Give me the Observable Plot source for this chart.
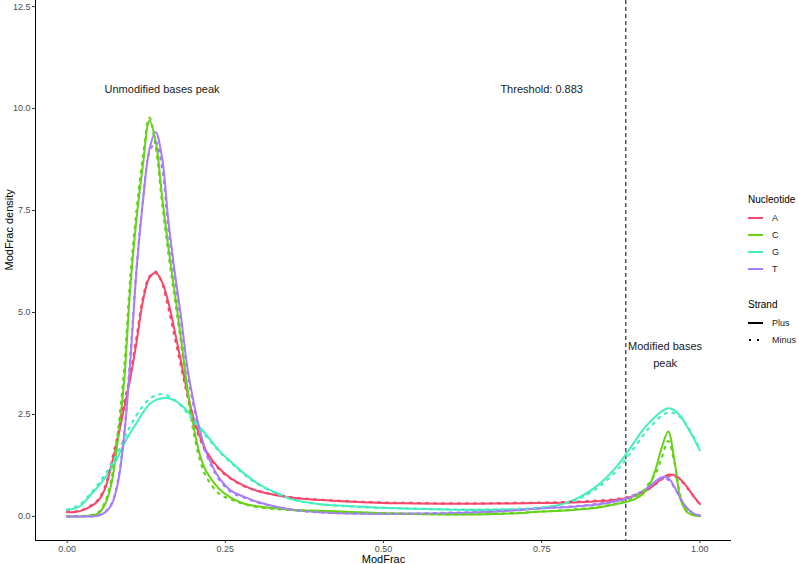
<!DOCTYPE html>
<html>
<head>
<meta charset="utf-8">
<script src="https://cdn.jsdelivr.net/npm/d3@7"></script>
<script src="https://cdn.jsdelivr.net/npm/@observablehq/plot@0.6"></script>
<style>
  html, body { margin: 0; padding: 0; background: #fff; }
  #wrap { position: relative; width: 798px; height: 564px; font-family: "Liberation Sans", Arial, sans-serif; }
  #legend { position: absolute; left: 748px; top: 194px; font-size: 9px; color: #1a1a1a; white-space: nowrap; }
  .lt { font-size: 10px; color: #000; margin-bottom: 4px; }
  .li { display: flex; align-items: center; height: 17px; }
  .li svg { margin-right: 9px; }
</style>
</head>
<body>
<div id="wrap"></div>
<script>
// ---- data ----
const nucleotides = ["A", "C", "G", "T"];
const nucColors = ["#F7486C", "#66D21A", "#43EFBE", "#A77DF9"];
const strands = ["Plus", "Minus"];
const xs = [0, 0.02, 0.04, 0.05, 0.06, 0.07, 0.08, 0.09, 0.10, 0.11, 0.12, 0.13, 0.14, 0.15, 0.16, 0.17, 0.18, 0.19, 0.20, 0.21, 0.22, 0.24, 0.26, 0.28, 0.30, 0.33, 0.36, 0.40, 0.45, 0.50, 0.55, 0.60, 0.65, 0.70, 0.75, 0.80, 0.84, 0.87, 0.89, 0.91, 0.92, 0.93, 0.94, 0.95, 0.96, 0.97, 0.98, 0.99, 1.00];

const A_plus  = [0.10, 0.13, 0.27, 0.40, 0.68, 1.25, 1.90, 2.65, 3.40, 4.30, 5.30, 5.85, 5.97, 5.75, 5.25, 4.55, 3.80, 3.05, 2.40, 1.95, 1.60, 1.18, 0.92, 0.75, 0.63, 0.52, 0.45, 0.40, 0.36, 0.33, 0.32, 0.31, 0.31, 0.32, 0.33, 0.34, 0.37, 0.41, 0.47, 0.60, 0.68, 0.80, 0.93, 1.02, 1.01, 0.90, 0.72, 0.50, 0.30];
const A_minus = [0.11, 0.14, 0.29, 0.43, 0.73, 1.33, 2.00, 2.78, 3.50, 4.42, 5.38, 5.88, 6.00, 5.72, 5.12, 4.40, 3.68, 2.96, 2.34, 1.90, 1.57, 1.16, 0.91, 0.74, 0.63, 0.53, 0.46, 0.41, 0.37, 0.34, 0.33, 0.32, 0.32, 0.33, 0.34, 0.36, 0.39, 0.43, 0.49, 0.60, 0.68, 0.79, 0.91, 0.99, 0.98, 0.88, 0.70, 0.49, 0.30];
const C_plus  = [0.00, 0.00, 0.03, 0.08, 0.30, 0.80, 1.85, 3.30, 5.65, 7.35, 8.65, 9.70, 9.20, 7.85, 6.60, 5.50, 4.35, 3.15, 2.20, 1.50, 1.10, 0.68, 0.45, 0.31, 0.25, 0.20, 0.16, 0.14, 0.11, 0.08, 0.06, 0.05, 0.05, 0.07, 0.12, 0.16, 0.22, 0.31, 0.38, 0.55, 0.75, 1.15, 1.70, 2.08, 1.35, 0.40, 0.10, 0.03, 0.01];
const C_minus = [0.00, 0.01, 0.04, 0.11, 0.36, 0.92, 2.05, 3.60, 5.90, 7.55, 8.85, 9.78, 9.05, 7.70, 6.45, 5.35, 4.25, 3.00, 2.05, 1.38, 0.97, 0.56, 0.41, 0.30, 0.23, 0.18, 0.15, 0.13, 0.10, 0.08, 0.06, 0.05, 0.06, 0.08, 0.12, 0.17, 0.24, 0.32, 0.42, 0.62, 0.82, 1.05, 1.45, 1.85, 1.30, 0.45, 0.12, 0.03, 0.01];
const G_plus  = [0.15, 0.25, 0.58, 0.75, 0.95, 1.17, 1.45, 1.78, 2.05, 2.30, 2.55, 2.75, 2.85, 2.90, 2.90, 2.84, 2.74, 2.58, 2.38, 2.18, 2.00, 1.62, 1.32, 1.05, 0.82, 0.58, 0.40, 0.30, 0.25, 0.21, 0.19, 0.17, 0.16, 0.17, 0.20, 0.40, 0.78, 1.25, 1.68, 2.12, 2.30, 2.45, 2.58, 2.65, 2.60, 2.45, 2.20, 1.92, 1.62];
const G_minus = [0.17, 0.29, 0.62, 0.81, 1.03, 1.28, 1.58, 1.90, 2.22, 2.49, 2.71, 2.88, 2.97, 3.00, 2.95, 2.85, 2.71, 2.53, 2.33, 2.14, 1.96, 1.60, 1.30, 1.03, 0.80, 0.57, 0.40, 0.30, 0.24, 0.21, 0.19, 0.17, 0.17, 0.18, 0.22, 0.38, 0.72, 1.15, 1.55, 1.98, 2.17, 2.33, 2.47, 2.55, 2.53, 2.42, 2.22, 1.95, 1.66];
const T_plus  = [0.00, 0.00, 0.00, 0.02, 0.10, 0.28, 0.80, 1.95, 3.85, 6.10, 7.75, 9.00, 9.42, 8.80, 7.25, 6.00, 4.90, 3.65, 2.80, 2.10, 1.58, 0.95, 0.62, 0.48, 0.36, 0.24, 0.16, 0.10, 0.07, 0.06, 0.07, 0.08, 0.10, 0.14, 0.20, 0.24, 0.30, 0.38, 0.47, 0.62, 0.72, 0.86, 0.96, 0.94, 0.72, 0.42, 0.20, 0.07, 0.02];
const T_minus = [0.00, 0.00, 0.01, 0.03, 0.11, 0.31, 0.86, 2.02, 3.95, 6.15, 7.78, 8.92, 9.18, 8.55, 7.05, 5.85, 4.75, 3.55, 2.70, 2.03, 1.52, 0.91, 0.59, 0.46, 0.35, 0.23, 0.15, 0.10, 0.07, 0.07, 0.07, 0.09, 0.11, 0.15, 0.20, 0.25, 0.31, 0.39, 0.48, 0.63, 0.73, 0.85, 0.93, 0.90, 0.70, 0.42, 0.20, 0.08, 0.02];

const xTicks = [0, 0.25, 0.5, 0.75, 1];
const yTicks = [0, 2.5, 5, 7.5, 10, 12.5];
const threshold = 0.883;
const annotations = [
  {x: 0.15, y: 10.5, label: "Unmodified bases peak"},
  {x: 0.75, y: 10.5, label: "Threshold: 0.883"},
  {x: 0.945, y: 4.0, label: "Modified bases\npeak"}
];

// ---- build table ----
const seriesMap = {
  A: {Plus: A_plus, Minus: A_minus},
  C: {Plus: C_plus, Minus: C_minus},
  G: {Plus: G_plus, Minus: G_minus},
  T: {Plus: T_plus, Minus: T_minus}
};
const rows = [];
for (const n of nucleotides) for (const s of strands) {
  seriesMap[n][s].forEach((v, i) => rows.push({x: xs[i], y: v, nuc: n, strand: s, key: n + s}));
}
const xDom = [-0.05, 1.05];
const yDom = [-0.59, 12.65];
const font = "'Liberation Sans', Arial, sans-serif";

const chart = Plot.plot({
  width: 798, height: 564,
  marginLeft: 35, marginRight: 67, marginTop: 0, marginBottom: 24,
  style: {fontFamily: font, background: "#fff", overflow: "visible"},
  x: {domain: xDom},
  y: {domain: yDom},
  color: {domain: nucleotides, range: nucColors},
  marks: [
    Plot.ruleX([xDom[0]], {stroke: "#000", strokeWidth: 1}),
    Plot.ruleY([yDom[0]], {stroke: "#000", strokeWidth: 1}),
    Plot.axisX({ticks: xTicks, tickFormat: d3.format(".2f"), tickSize: 3, tickPadding: 2, fontSize: 9, color: "#4d4d4d", label: null, stroke: "#333"}),
    Plot.axisY({ticks: yTicks, tickFormat: d3.format(".1f"), tickSize: 3, tickPadding: 2, fontSize: 9, color: "#4d4d4d", label: null, stroke: "#333"}),
    Plot.text(["ModFrac"], {frameAnchor: "bottom", dy: 22, fontSize: 11, fill: "#000"}),
    Plot.text(["ModFrac density"], {frameAnchor: "left", dx: -26, rotate: -90, fontSize: 11, fill: "#000"}),
    Plot.ruleX([threshold], {stroke: "#000", strokeWidth: 1, strokeDasharray: "4,3"}),
    Plot.line(rows.filter(d => d.strand === "Plus"), {x: "x", y: "y", z: "key", stroke: "nuc", strokeWidth: 2, curve: "catmull-rom"}),
    Plot.line(rows.filter(d => d.strand === "Minus"), {x: "x", y: "y", z: "key", stroke: "nuc", strokeWidth: 2.2, strokeDasharray: "2,6", curve: "catmull-rom"}),
    Plot.text(annotations, {x: "x", y: "y", text: "label", fontSize: 11, fill: "#1a1a1a", lineHeight: 1.5})
  ]
});
const wrap = document.getElementById("wrap");
wrap.appendChild(chart);

// ---- legend ----
const lg = document.createElement("div");
lg.id = "legend";
let html = '<div class="lt">Nucleotide</div>';
nucleotides.forEach((n, i) => {
  html += `<div class="li"><svg width="15" height="6"><line x1="0" x2="15" y1="3" y2="3" stroke="${nucColors[i]}" stroke-width="2"/></svg>${n}</div>`;
});
html += '<div class="lt" style="margin-top:22px">Strand</div>';
html += `<div class="li"><svg width="15" height="6"><line x1="0" x2="15" y1="3" y2="3" stroke="#000" stroke-width="2"/></svg>${strands[0]}</div>`;
html += `<div class="li"><svg width="15" height="6"><line x1="1" x2="15" y1="3" y2="3" stroke="#000" stroke-width="2" stroke-dasharray="2,6"/></svg>${strands[1]}</div>`;
lg.innerHTML = html;
wrap.appendChild(lg);
</script>
</body>
</html>
